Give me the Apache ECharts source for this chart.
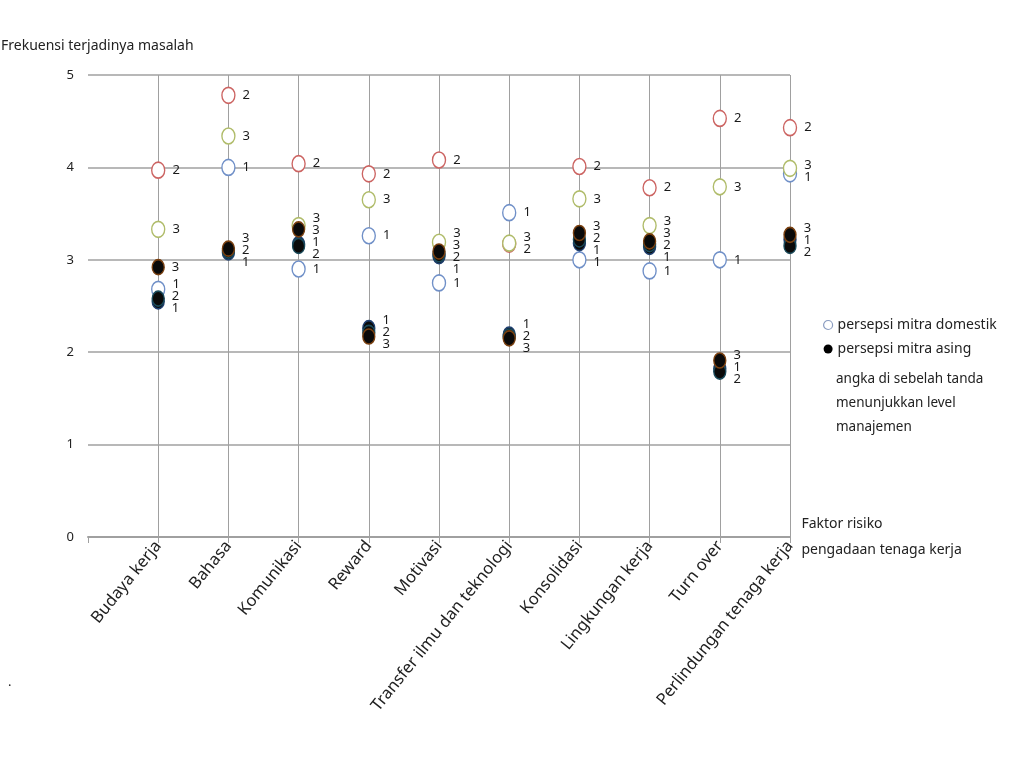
<!DOCTYPE html>
<html>
<head>
<meta charset="utf-8">
<script src="https://cdn.jsdelivr.net/npm/echarts/dist/echarts.min.js"></script>
<style>html,body{margin:0;padding:0;background:#fff}#c{width:1036px;height:760px}</style>
</head>
<body>
<div id="c"></div>
<script>
// ---- data ----
const categories = ['Budaya kerja','Bahasa','Komunikasi','Reward','Motivasi','Transfer ilmu dan teknologi','Konsolidasi','Lingkungan kerja','Turn over','Perlindungan tenaga kerja'];
const domestic1 = [2.68, 4.00, 2.90, 3.26, 2.75, 3.51, 3.00, 2.88, 3.00, 3.93];
const domestic2 = [3.97, 4.78, 4.04, 3.93, 4.08, 3.17, 4.01, 3.78, 4.53, 4.43];
const domestic3 = [3.33, 4.34, 3.37, 3.65, 3.19, 3.18, 3.66, 3.37, 3.79, 3.99];
const foreign1  = [2.55, 3.08, 3.17, 2.26, 3.04, 2.19, 3.18, 3.14, 1.82, 3.22];
const foreign2  = [2.58, 3.10, 3.15, 2.21, 3.06, 2.17, 3.22, 3.17, 1.79, 3.15];
const foreign3  = [2.92, 3.12, 3.33, 2.17, 3.09, 2.15, 3.29, 3.20, 1.91, 3.27];
const yTicks = [0, 1, 2, 3, 4, 5];
const legendDomestic = 'persepsi mitra domestik';
const legendForeign = 'persepsi mitra asing';
const noteLines = ['angka di sebelah tanda', 'menunjukkan level', 'manajemen'];
const yTitle = 'Frekuensi terjadinya masalah';
const xTitle = 'Faktor risiko\npengadaan tenaga kerja';

// ---- styling / layout ----
const FONT = 'Noto Sans';
const GRID = {left: 88, right: 246, top: 75, bottom: 223};
const PX_PER_UNIT = (760 - GRID.top - GRID.bottom) / (yTicks[yTicks.length - 1] - yTicks[0]);
const GAP = 12;

const defs = [
  {values: domestic1, level: '1', name: legendDomestic, filled: false, border: '#7090c8'},
  {values: domestic2, level: '2', name: legendDomestic, filled: false, border: '#cc6462'},
  {values: domestic3, level: '3', name: legendDomestic, filled: false, border: '#b0bc6a'},
  {values: foreign1,  level: '1', name: legendForeign,  filled: true,  border: '#1f3f6f'},
  {values: foreign2,  level: '2', name: legendForeign,  filled: true,  border: '#1a4a5a'},
  {values: foreign3,  level: '3', name: legendForeign,  filled: true,  border: '#7a4010'}
];

// label de-overlap per category column (labels stacked like the original)
const offsets = defs.map(() => []);
for (let c = 0; c < categories.length; c++) {
  const items = defs.map((d, si) => ({si, y: -d.values[c] * PX_PER_UNIT})).sort((a, b) => a.y - b.y);
  const clusters = [];
  items.forEach(it => {
    clusters.push({items: [it], top: it.y});
    while (clusters.length > 1) {
      const cur = clusters[clusters.length - 1], prev = clusters[clusters.length - 2];
      if (prev.top + prev.items.length * GAP > cur.top) {
        const merged = prev.items.concat(cur.items);
        const mean = merged.reduce((s, i) => s + i.y, 0) / merged.length;
        clusters.splice(-2, 2, {items: merged, top: mean - (merged.length - 1) * GAP / 2});
      } else break;
    }
  });
  clusters.forEach(cl => cl.items.forEach((it, k) => { offsets[it.si][c] = cl.top + k * GAP - it.y; }));
}

const series = defs.map((d, si) => ({
  type: 'scatter',
  name: d.name,
  symbol: 'circle',
  symbolSize: d.filled ? [12, 15] : [13, 16],
  itemStyle: {color: d.filled ? '#0a0a0a' : '#ffffff', borderColor: d.border, borderWidth: 1.5, opacity: 1},
  label: {
    show: true, position: 'right', distance: 7,
    formatter: () => d.level,
    fontFamily: FONT, fontSize: 13, color: '#1a1a1a'
  },
  data: d.values.map((v, c) => ({value: [c + 1, v], label: {offset: [0, offsets[si][c]]}})),
  z: d.filled ? 3 : 2
}));

const chart = echarts.init(document.getElementById('c'), null, {renderer: 'canvas'});
chart.setOption({
  animation: false,
  backgroundColor: '#ffffff',
  textStyle: {fontFamily: FONT},
  title: {
    text: yTitle, left: -4, top: 34,
    textStyle: {fontFamily: FONT, fontSize: 14, fontWeight: 'normal', color: '#222'}
  },
  legend: {
    orient: 'vertical', left: 818, top: 313, itemWidth: 9, itemHeight: 11, itemGap: 10,
    textStyle: {fontFamily: FONT, fontSize: 14, color: '#222'},
    data: [
      {name: legendDomestic, icon: 'circle', itemStyle: {color: '#fff', borderColor: '#8a9cc0', borderWidth: 1.2}},
      {name: legendForeign, icon: 'circle', itemStyle: {color: '#000', borderColor: '#000', borderWidth: 0}}
    ]
  },
  graphic: [
    {type: 'text', left: 836, top: 367, style: {text: noteLines.join('\n'), font: '13.5px "' + FONT + '"', fill: '#222', lineHeight: 24}},
    {type: 'text', left: 8, top: 676, style: {text: '.', font: '13px "' + FONT + '"', fill: '#222'}}
  ],
  grid: GRID,
  xAxis: {
    type: 'value', min: 0, max: categories.length, interval: 1,
    name: xTitle, nameLocation: 'end', nameGap: 8,
    nameTextStyle: {fontFamily: FONT, fontSize: 14, color: '#222', align: 'left', verticalAlign: 'middle', lineHeight: 26, padding: [12, 0, 0, 0]},
    axisLine: {show: true, lineStyle: {color: '#a0a0a0', width: 2}},
    axisTick: {show: true, length: 6, lineStyle: {color: '#a0a0a0', width: 1}},
    axisLabel: {
      rotate: 51, margin: 6, fontFamily: FONT, fontSize: 16.5, color: '#222',
      formatter: v => (v >= 1 && v <= categories.length) ? categories[v - 1] : ''
    },
    splitLine: {show: true, showMinLine: false, lineStyle: {color: '#a0a0a0', width: 1}}
  },
  yAxis: {
    type: 'value', min: yTicks[0], max: yTicks[yTicks.length - 1], interval: 1,
    axisLine: {show: false}, axisTick: {show: false},
    axisLabel: {fontFamily: FONT, fontSize: 13, color: '#222', margin: 14},
    splitLine: {show: true, lineStyle: {color: '#a0a0a0', width: 1.5}}
  },
  series: series
});
</script>
</body>
</html>
